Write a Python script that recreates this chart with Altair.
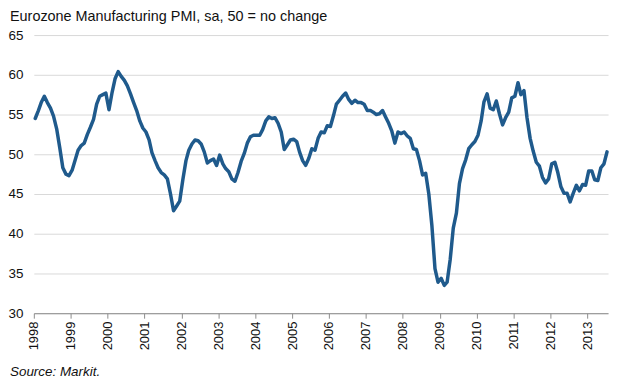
import altair as alt
import pandas as pd

# Eurozone Manufacturing PMI, monthly, sa
pmi_1998 = [54.5, 55.5, 56.5, 57.3, 56.5, 55.8, 54.8, 53.2, 50.8, 48.3, 47.5, 47.3]
pmi_1999 = [48.0, 49.3, 50.5, 51.1, 51.4, 52.5, 53.4, 54.4, 56.3, 57.3, 57.5, 57.7]
pmi_2000 = [55.6, 57.8, 59.5, 60.4, 59.8, 59.3, 58.6, 57.6, 56.5, 55.5, 54.2, 53.3]
pmi_2001 = [52.8, 51.8, 50.2, 49.2, 48.3, 47.7, 47.4, 46.9, 45.0, 42.9, 43.5, 44.1]
pmi_2002 = [46.8, 49.2, 50.5, 51.3, 51.8, 51.7, 51.3, 50.3, 48.9, 49.2, 49.4, 48.6]
pmi_2003 = [49.9, 48.8, 48.2, 47.8, 46.9, 46.6, 47.7, 49.1, 50.1, 51.4, 52.2, 52.4]
pmi_2004 = [52.4, 52.4, 53.1, 54.2, 54.7, 54.5, 54.6, 53.9, 52.8, 50.6, 51.2, 51.8]
pmi_2005 = [51.9, 51.6, 50.3, 49.2, 48.6, 49.5, 50.7, 50.5, 52.0, 52.8, 52.7, 53.6]
pmi_2006 = [53.5, 54.9, 56.3, 56.8, 57.3, 57.7, 56.9, 56.4, 56.8, 56.5, 56.5, 56.3]
pmi_2007 = [55.5, 55.5, 55.3, 55.0, 55.1, 55.5, 54.7, 53.9, 52.9, 51.4, 52.8, 52.6]
pmi_2008 = [52.8, 52.3, 52.0, 50.7, 50.6, 49.2, 47.4, 47.6, 45.0, 41.1, 35.6, 33.9]
pmi_2009 = [34.4, 33.5, 33.9, 36.8, 40.7, 42.6, 46.3, 48.2, 49.3, 50.7, 51.2, 51.6]
pmi_2010 = [52.4, 54.2, 56.6, 57.6, 55.8, 55.6, 56.7, 55.1, 53.7, 54.6, 55.3, 57.1]
pmi_2011 = [57.3, 59.0, 57.5, 58.0, 54.6, 52.0, 50.4, 49.0, 48.5, 47.1, 46.4, 46.9]
pmi_2012 = [48.8, 49.0, 47.7, 45.9, 45.1, 45.1, 44.0, 45.1, 46.1, 45.4, 46.2, 46.1]
pmi_2013 = [47.9, 47.9, 46.8, 46.7, 48.3, 48.8, 50.3]

years = list(range(1998, 2014))
y_ticks = [30, 35, 40, 45, 50, 55, 60, 65]
title_text = "Eurozone Manufacturing PMI, sa, 50 = no change"
source_text = "Source: Markit."

series = [pmi_1998, pmi_1999, pmi_2000, pmi_2001, pmi_2002, pmi_2003, pmi_2004,
          pmi_2005, pmi_2006, pmi_2007, pmi_2008, pmi_2009, pmi_2010, pmi_2011,
          pmi_2012, pmi_2013]
rows = []
for yr, vals in zip(years, series):
    for m, v in enumerate(vals):
        rows.append({"date": f"{yr}-{m + 1:02d}-15", "pmi": v})
df = pd.DataFrame(rows)

W, H = 578, 280
FONT = "Liberation Sans"

line = alt.Chart(df).mark_line(
    color="#1F5A8C", strokeWidth=3.5, strokeJoin="round", strokeCap="round"
).encode(
    x=alt.X(
        "date:T",
        scale=alt.Scale(
            type="utc",
            domain=[alt.DateTime(year=1998, month=1, date=1, utc=True),
                    alt.DateTime(year=2013, month=7, date=25, utc=True)],
        ),
        axis=alt.Axis(
            values=[alt.DateTime(year=y, month=1, date=1, utc=True) for y in years],
            format="%Y", labelAngle=270, labelFont=FONT, labelFontSize=13,
            labelColor="#111", labelPadding=3, tickSize=5, tickColor="#8c8c8c",
            domainColor="#8c8c8c", grid=False, title=None, labelOverlap=False,
            labelFlush=False,
        ),
    ),
    y=alt.Y(
        "pmi:Q",
        scale=alt.Scale(domain=[30, 65], zero=False, nice=False),
        axis=alt.Axis(
            values=y_ticks, labelFont=FONT, labelFontSize=13.5, labelColor="#111",
            labelPadding=11, ticks=False, domain=False, grid=True,
            gridColor="#d9d9d9", gridWidth=1, title=None,
        ),
    ),
)

title = alt.Chart(pd.DataFrame({"t": [title_text]})).mark_text(
    align="left", baseline="alphabetic", font=FONT, fontSize=14.5, color="#111"
).encode(x=alt.value(-24), y=alt.value(-14), text="t:N")

source = alt.Chart(pd.DataFrame({"t": [source_text]})).mark_text(
    align="left", baseline="alphabetic", font=FONT, fontSize=13.5,
    fontStyle="italic", color="#111"
).encode(x=alt.value(-24), y=alt.value(H + 63), text="t:N")

chart = alt.layer(line, title, source).properties(
    width=W, height=H,
    autosize=alt.AutoSizeParams(type="none"),
    padding={"left": 26, "top": 26, "right": 4, "bottom": 66},
).configure_view(stroke=None)

chart.save("out.html", embed_options={"renderer": "svg", "actions": False})
